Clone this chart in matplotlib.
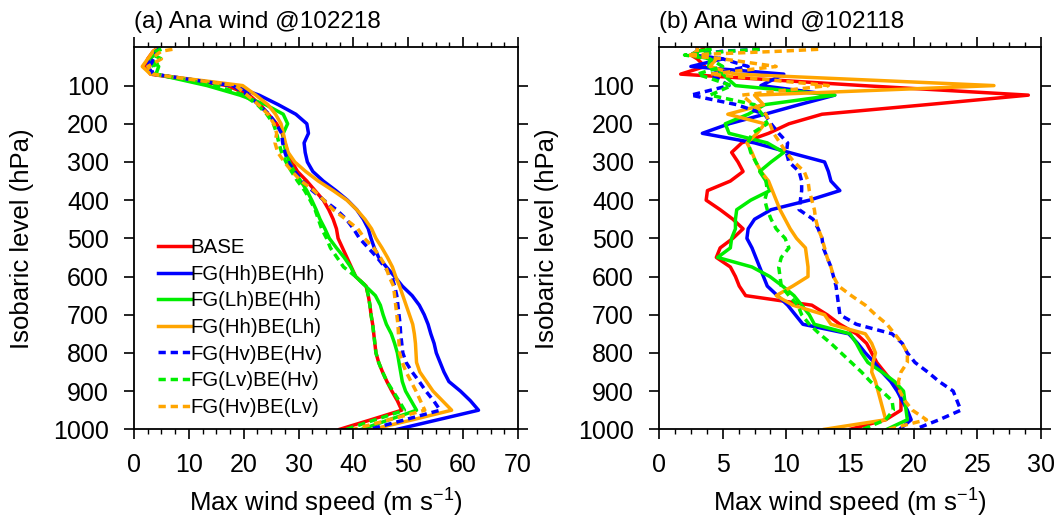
import matplotlib
matplotlib.use('Agg')
import matplotlib.pyplot as plt
from matplotlib.ticker import MultipleLocator

plt.rcParams['font.family'] = ['Liberation Sans', 'DejaVu Sans']
plt.rcParams['mathtext.default'] = 'regular'

# pressure levels (hPa)
levels = [5, 10, 20, 30, 50, 70,
          100, 125, 150, 175, 200, 225, 250, 275, 300, 325,
          350, 375, 400, 425, 450, 475, 500, 525, 550, 575,
          600, 625, 650, 675, 700, 725, 750, 775, 800, 825,
          850, 875, 900, 925, 950, 975, 1000]

labels = ['BASE', 'FG(Hh)BE(Hh)', 'FG(Lh)BE(Hh)', 'FG(Hh)BE(Lh)',
          'FG(Hv)BE(Hv)', 'FG(Lv)BE(Hv)', 'FG(Hv)BE(Lv)']
colors = ['#ff0000', '#0000ff', '#00ee00', '#ffa500', '#0000ff', '#00ee00', '#ffa500']
styles = ['-', '-', '-', '-', '--', '--', '--']

# (a) Ana wind @102218
a_base = [4, 3.5, 3, 2.5, 2, 3,
          17, 21, 23, 24.5, 26, 27, 27.5, 28, 28.8, 29.8,
          31.5, 33, 34.5, 35.5, 36.3, 36.9, 37.2, 38, 38.8, 39.6,
          40.4, 42.3, 42.7, 43, 43.2, 43.5, 43.7, 43.9, 44.1, 44.6,
          45.3, 46.1, 47, 48, 48.8, 43.2, 37.5]
a_hh_hh = [4, 4, 3.5, 3, 2.5, 3.5,
           18, 22.8, 26.3, 29.5, 31.5, 31.8, 31, 31.2, 31.6, 32.6,
           34.5, 36.8, 38.9, 40.6, 41.8, 42.7, 43.2, 43.8, 44.6, 46,
           47.5, 48.9, 50.7, 52, 52.9, 53.6, 54.1, 54.7, 55.1, 55.8,
           56.5, 57.4, 59.5, 61.3, 62.8, 55.4, 48]
a_lh_hh = [4.5, 4, 3.5, 3, 4.5, 4,
           13.3, 19.3, 24, 27.2, 28, 27.2, 27.3, 27.7, 28.3, 29.2,
           30.4, 31.5, 32.4, 33.2, 33.9, 34.8, 35.6, 36.9, 38.3, 39.5,
           40.4, 42.2, 44, 44.9, 45.4, 46, 46.9, 47.5, 48, 48.3,
           48.6, 48.9, 49.5, 50.5, 51.5, 46.5, 41.5]
a_hh_lh = [4, 3.5, 3, 2.5, 1.5, 3,
           19.8, 22.2, 24.4, 25.8, 26.8, 27.2, 27.6, 28.1, 29.3, 31.3,
           33.6, 36.3, 38.8, 40.6, 42.1, 43.3, 44.1, 45.2, 46.2, 47.1,
           47.7, 48.4, 49, 49.6, 50.2, 50.8, 51.1, 51.3, 51.4, 51.5,
           52.1, 53.3, 54.5, 56.2, 57.9, 50.8, 43.5]
a_hv_hv = [4.5, 4, 4, 3.5, 3, 3.5,
           18, 20.8, 22.7, 24.6, 25.9, 26.9, 27.1, 27.5, 28.1, 29.3,
           30.7, 32.5, 34.6, 36.9, 38.7, 40, 41.1, 42.7, 44.3, 45.7,
           47, 47.5, 47.9, 48.1, 48.3, 48.5, 48.6, 48.8, 49, 49.6,
           50.7, 52, 53.2, 54.6, 55.8, 49.4, 43]
a_lv_hv = [5, 4, 3.5, 5, 3.5, 4,
           15, 20, 22.5, 24.2, 25.4, 26, 26.4, 26.9, 27.7, 28.7,
           29.8, 31.1, 32.1, 33, 33.6, 34.2, 35.1, 35.8, 37, 38.2,
           40.4, 42.3, 42.7, 43, 43.2, 43.5, 43.7, 43.9, 44.1, 44.6,
           45.3, 46.1, 47.2, 48.3, 49.3, 44, 38.7]
a_hv_lv = [7, 5, 4, 5, 2.5, 3.5,
           18.5, 20.6, 22.7, 24.4, 25.5, 26, 25.7, 26.2, 27.4, 28.8,
           30.5, 32.8, 34.6, 36.3, 38.6, 40.8, 42, 43.7, 44.9, 45.9,
           46.5, 47.3, 47.5, 47.7, 47.9, 48.1, 48.2, 48.3, 48.4, 48.9,
           49.6, 50.5, 51.4, 52.2, 53, 46.5, 40]

# (b) Ana wind @102118
b_base = [3.5, 3, 2.5, 3, 3.6, 1.7,
          16, 29, 21, 12.8, 10.2, 8.6, 6.5, 5.7, 6.2, 6.6,
          5.6, 3.8, 3.7, 4.8, 5.8, 6.6, 5.8, 4.8, 4.5, 5.6,
          6, 6.3, 6.8, 12, 13.2, 14.2, 15.5, 16.3, 16.7, 17.1,
          17.7, 18.3, 18.9, 19, 19, 17.8, 15]
b_hh_hh = [3, 3, 2.5, 5, 2.5, 9.8,
           8, 13.8, 11, 8.3, 5.5, 3.4, 7.5, 10.2, 13, 13.3,
           13.5, 14.2, 11.8, 8.8, 7.5, 7, 6.9, 7.3, 7.6, 7.9,
           8.2, 8.5, 9.3, 10.1, 10.7, 11.3, 14.9, 15.6, 16.2, 16.9,
           17.5, 18.2, 18.7, 19.1, 19.5, 19.8, 18.9]
b_lh_hh = [4, 3, 2.5, 4, 3.9, 5,
           6, 13.8, 8.3, 7, 5.2, 5.5, 8.5, 9.8, 8.8, 7.9,
           8.4, 8.7, 7.2, 6.1, 6, 6, 5.7, 5.6, 4.6, 7.3,
           8.7, 9.7, 10.6, 11.2, 11.8, 12.2, 15, 15.5, 15.9, 16.4,
           17.5, 18.5, 19.2, 19.3, 19.4, 19.5, 17.9]
b_hh_lh = [3, 3, 2.5, 4.5, 4, 6,
           26.3, 7.5, 8.2, 5.4, 8.3, 7.7, 6.9, 7.3, 7.6, 8,
           8.6, 8.9, 9.2, 9.5, 9.9, 10.3, 10.8, 11.5, 11.6, 11.7,
           11.7, 10.5, 9.2, 10.5, 13, 13.5, 16.2, 16.7, 17, 16.8,
           16.7, 17, 17.2, 17.4, 17.6, 17.8, 13]
b_hv_hv = [7.9, 5, 2.5, 5, 7, 4,
           5.5, 2.5, 6.1, 8.3, 8.8, 9.4, 10.1, 10, 10.2, 11,
           11.2, 11.2, 11.1, 11, 12.1, 12.5, 12.8, 12.9, 13.2, 13.5,
           13.7, 13.9, 14, 14.1, 14.2, 15.5, 18.3, 19.1, 19.5, 20.1,
           21.1, 22, 23.1, 23.4, 23.7, 22, 20.1]
b_lv_hv = [7.9, 5.5, 2, 4, 5, 3,
           5.7, 4, 7.5, 8.1, 8.5, 7.3, 7, 7.2, 7.6, 8,
           8.4, 8.5, 8.3, 8.5, 8.8, 9.2, 9.9, 10.2, 9.6, 9.4,
           9.5, 9.6, 10.2, 10.9, 11.2, 11.8, 12.6, 13.5, 14.3, 15.1,
           15.9, 16.6, 17.5, 18.3, 18.4, 17.8, 16]
b_hv_lv = [12.5, 9.5, 2.2, 5, 9.2, 4,
           13.3, 6.5, 7.4, 8.4, 8.7, 9, 9.5, 10, 10.6, 11.4,
           11.7, 11.8, 12, 12.2, 12.3, 12.5, 12.8, 13, 13.2, 13.5,
           13.7, 14.1, 15.1, 16.2, 17, 17.9, 18.5, 19.1, 19.5, 19.5,
           19, 18.8, 18.9, 19.3, 19.9, 21, 18]

panel_a = [a_base, a_hh_hh, a_lh_hh, a_hh_lh, a_hv_hv, a_lv_hv, a_hv_lv]
panel_b = [b_base, b_hh_hh, b_lh_hh, b_hh_lh, b_hv_hv, b_lv_hv, b_hv_lv]

fig = plt.figure(figsize=(10.57, 5.22), dpi=100)
ax1 = fig.add_axes([0.1268, 0.1776, 0.3633, 0.7316])
ax2 = fig.add_axes([0.6235, 0.1776, 0.3614, 0.7316])


def draw(ax, data, title, xmax, xmajor, xminor):
    for vals, lab, c, ls in zip(data, labels, colors, styles):
        line, = ax.plot(vals, levels, color=c, lw=2.5, label=lab)
        if ls == '--':
            line.set_dashes((2.1, 1.4))
    ax.set_xlim(0, xmax)
    ax.set_ylim(1000, 0)
    ax.set_yticks(range(100, 1001, 100))
    ax.xaxis.set_major_locator(MultipleLocator(xmajor))
    ax.xaxis.set_minor_locator(MultipleLocator(xminor))
    ax.tick_params(axis='both', which='major', direction='out', length=7, width=1.2,
                   labelsize=18, top=True, right=True)
    ax.tick_params(axis='x', which='major', pad=10)
    ax.tick_params(axis='y', which='major', pad=11)
    ax.tick_params(axis='x', which='minor', direction='out', length=3.5, width=1.0, top=True)
    for s in ax.spines.values():
        s.set_linewidth(1.3)
    ax.set_xlabel('Max wind speed (m s$^{-1}$)', fontsize=18.5, labelpad=7)
    ax.set_ylabel('Isobaric level (hPa)', fontsize=18.5, labelpad=14)
    ax.set_title(title, loc='left', fontsize=17.5, pad=14)


draw(ax1, panel_a, '(a) Ana wind @102218', 70, 10, 2.5)
draw(ax2, panel_b, '(b) Ana wind @102118', 30, 5, 1.25)

ax1.legend(loc='upper left', bbox_to_anchor=(0.0625, 0.50), frameon=False,
           fontsize=14.7, handlelength=1.6, handletextpad=0.0, labelspacing=0.37,
           borderpad=0, borderaxespad=0)

fig.savefig('out.png', dpi=100)
